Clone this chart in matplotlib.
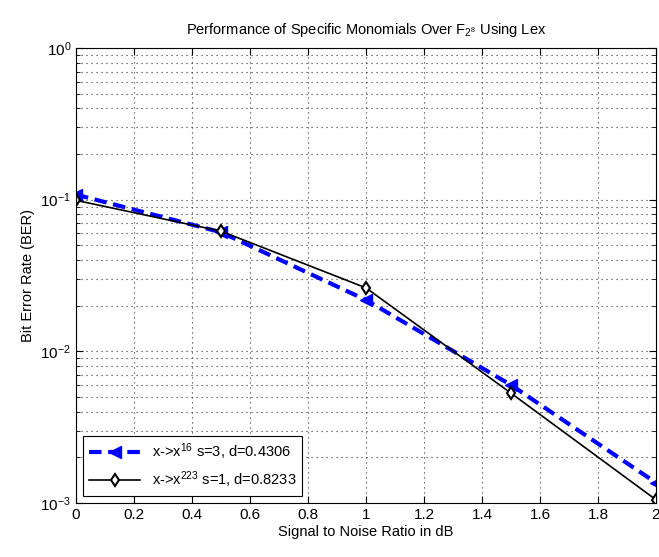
import matplotlib
matplotlib.use('Agg')
import matplotlib.pyplot as plt
import numpy as np

plt.rcParams['font.family'] = ['Liberation Sans', 'DejaVu Sans']
plt.rcParams['mathtext.default'] = 'regular'

# data
snr = [0, 0.5, 1, 1.5, 2]
ber_x16 = [0.108, 0.061, 0.0218, 0.0060, 0.00136]
ber_x223 = [0.099, 0.062, 0.0262, 0.0053, 0.00105]
lab_x16 = r'x->x$^{16}$ s=3, d=0.4306'
lab_x223 = r'x->x$^{223}$ s=1, d=0.8233'
xticks = [0, 0.2, 0.4, 0.6, 0.8, 1, 1.2, 1.4, 1.6, 1.8, 2]
xticklabels = ['0', '0.2', '0.4', '0.6', '0.8', '1', '1.2', '1.4', '1.6', '1.8', '2']

fig = plt.figure(figsize=(6.59, 5.57), dpi=100)
ax = fig.add_axes([0.1153, 0.097, 0.8801, 0.8168])

ax.semilogy(snr, ber_x16, color='#0000ff', linestyle='--', dashes=(3, 1.6), linewidth=3,
            marker='<', markersize=9, label=lab_x16)
ax.semilogy(snr, ber_x223, color='black', linestyle='-', linewidth=1.2,
            marker='d', markersize=6, markerfacecolor='white', markeredgewidth=1.5,
            label=lab_x223)

ax.set_xlim(0, 2)
ax.set_ylim(1e-3, 1)
ax.set_xticks(xticks)
ax.set_xticklabels(xticklabels)

# matlab style dotted grid
ax.grid(True, which='major', color='#333333', linestyle=(0, (1, 3.5)), linewidth=0.8)
ax.grid(True, which='minor', axis='y', color='#333333', linestyle=(0, (1, 3.5)), linewidth=0.8)

ax.tick_params(which='both', direction='in', top=True, right=True, labelsize=11)
ax.tick_params(which='major', length=5)
ax.tick_params(which='minor', length=3)

ax.set_title(r'Performance of Specific Monomials Over F$_{2^8}$ Using Lex', fontsize=10.5, pad=10)
ax.set_xlabel('Signal to Noise Ratio in dB', fontsize=10.5, labelpad=2)
ax.set_ylabel('Bit Error Rate (BER)', fontsize=10.5, labelpad=4)

leg = ax.legend(loc='lower left', fontsize=10.5, fancybox=False, framealpha=1,
                edgecolor='black', handlelength=3.5, borderaxespad=0.5)
leg.get_frame().set_linewidth(0.8)

fig.savefig('out.png', dpi=100)
